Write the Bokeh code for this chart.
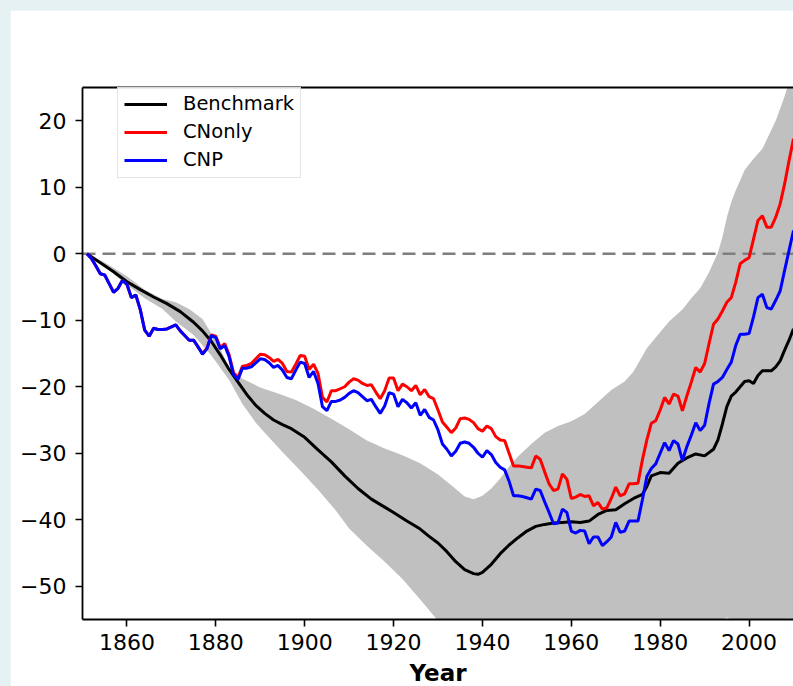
from bokeh.plotting import figure
from bokeh.layouts import column
from bokeh.models import FixedTicker, LinearAxis, Legend, LegendItem
from bokeh.embed import file_html
from bokeh.resources import INLINE

# ---- data -------------------------------------------------------------
years = list(range(1851, 2011))

cnp = [
    0.0, -0.7, -1.8, -3.0, -3.2, -4.5, -5.8, -5.2, -4.0, -4.6,
    -6.6, -6.2, -8.4, -11.5, -12.4, -11.2, -11.4, -11.4, -11.3, -11.0,
    -10.7, -11.6, -12.3, -13.0, -13.0, -14.0, -15.1, -14.3, -12.3, -12.6,
    -14.3, -13.8, -15.5, -18.2, -18.9, -17.2, -17.2, -17.0, -16.4, -15.8,
    -15.9, -16.4, -17.1, -16.8, -17.5, -18.6, -18.8, -17.5, -16.3, -16.5,
    -18.6, -17.7, -19.5, -23.0, -23.6, -22.2, -22.2, -22.0, -21.6, -21.0,
    -20.6, -20.9, -21.5, -22.1, -21.9, -23.0, -24.0, -22.9, -20.9, -21.1,
    -23.0, -21.9, -22.4, -23.2, -22.4, -24.3, -23.4, -24.6, -25.0, -26.5,
    -28.6, -29.4, -30.4, -29.7, -28.5, -28.3, -28.5, -29.1, -30.0, -30.6,
    -29.6, -30.2, -31.4, -32.1, -32.5, -34.2, -36.4, -36.4, -36.5, -36.7,
    -36.9, -35.4, -35.6, -37.3, -38.9, -40.6, -40.5, -38.4, -38.9, -41.7,
    -42.0, -41.6, -41.7, -43.6, -42.6, -42.6, -43.9, -43.3, -42.6, -40.4,
    -41.9, -41.7, -40.2, -40.2, -40.2, -37.0, -33.5, -32.3, -31.6, -30.0,
    -28.4, -29.6, -28.1, -28.6, -31.1, -29.0, -27.3, -25.4, -26.6, -25.8,
    -22.5, -19.6, -19.2, -18.6, -17.4, -16.3, -13.8, -12.1, -12.1, -12.0,
    -9.5, -6.6, -6.1, -8.1, -8.3, -7.0, -5.6, -2.5, 0.5, 3.5,
]

cn_only = [
    0.0, -0.7, -1.8, -3.0, -3.2, -4.5, -5.8, -5.2, -4.0, -4.6,
    -6.6, -6.2, -8.4, -11.5, -12.4, -11.2, -11.4, -11.4, -11.3, -11.0,
    -10.7, -11.6, -12.3, -13.0, -13.0, -14.0, -15.0, -14.2, -12.2, -12.4,
    -14.1, -13.5, -15.2, -17.9, -18.6, -16.9, -16.8, -16.5, -15.8, -15.1,
    -15.2, -15.6, -16.2, -15.9, -16.5, -17.7, -17.8, -16.6, -15.3, -15.4,
    -17.4, -16.6, -18.0, -21.6, -22.3, -20.6, -20.6, -20.3, -20.0, -19.3,
    -18.8, -19.0, -19.5, -19.8, -19.7, -20.8, -21.8, -20.6, -18.7, -18.7,
    -20.6, -19.6, -20.0, -20.6, -19.8, -21.2, -20.4, -21.5, -21.8, -23.5,
    -25.3, -26.1, -26.9, -26.2, -24.8, -24.7, -24.9, -25.4, -26.3, -26.7,
    -25.9, -26.3, -27.5, -28.0, -28.1, -30.0, -31.9, -31.9, -32.0, -32.1,
    -32.2, -30.4, -30.9, -32.8, -34.6, -35.6, -35.4, -33.1, -33.9, -36.8,
    -36.6, -36.2, -36.5, -36.4, -37.9, -37.4, -38.4, -38.2, -36.8, -35.1,
    -36.4, -36.1, -34.6, -34.6, -34.5, -31.0, -28.0, -25.5, -25.1, -23.5,
    -21.6, -22.6, -21.1, -21.4, -23.6, -21.4, -19.3, -17.1, -17.8, -16.5,
    -13.5, -10.6, -9.8, -8.6, -7.3, -6.6, -4.3, -1.5, -1.0, -0.6,
    2.2, 5.0, 5.7, 4.0, 4.0, 5.5, 7.5, 10.5, 14.0, 17.3,
]

bench_years = [
    1851, 1853, 1855, 1857, 1860, 1863, 1866, 1869, 1872, 1875,
    1877, 1879, 1881, 1883, 1885, 1887, 1889, 1891, 1893, 1895,
    1897, 1900, 1903, 1906, 1909, 1912, 1915, 1918, 1920, 1923,
    1926, 1928, 1930, 1932, 1934, 1936, 1938, 1939, 1940, 1942,
    1944, 1946, 1948, 1950, 1952, 1954, 1956, 1958, 1960, 1962,
    1964, 1966, 1968, 1970, 1972, 1974, 1976, 1977, 1978, 1980,
    1982, 1984, 1986, 1988, 1990, 1992, 1993, 1994, 1995, 1996,
    1997, 1998, 1999, 2000, 2001, 2002, 2003, 2004, 2005, 2006,
    2007, 2008, 2009, 2010,
]
benchmark = [
    0.0, -0.9, -1.8, -2.7, -4.2, -5.4, -6.5, -7.5, -8.7, -10.3,
    -11.6, -13.2, -15.2, -17.4, -19.3, -21.2, -22.8, -24.0, -25.0, -25.7,
    -26.3, -27.6, -29.5, -31.3, -33.4, -35.3, -36.9, -38.1, -38.9, -40.2,
    -41.4, -42.5, -43.5, -44.8, -46.3, -47.5, -48.1, -48.2, -47.9, -46.7,
    -45.1, -43.8, -42.7, -41.7, -41.0, -40.7, -40.5, -40.4, -40.3, -40.4,
    -40.2, -39.2, -38.6, -38.5, -37.6, -36.8, -36.2, -35.0, -33.4, -32.9,
    -33.0, -31.5, -30.7, -30.1, -30.4, -29.4, -28.0, -25.6, -23.0, -21.4,
    -20.8, -20.0, -19.2, -19.1, -19.5, -18.3, -17.6, -17.6, -17.6, -17.0,
    -16.1, -14.5, -13.0, -11.3,
]

# spread of the benchmark ensemble (upper and lower envelope)
band_up_years = [
    1851, 1855, 1860, 1864, 1868, 1871, 1874, 1877, 1879, 1881,
    1883, 1886, 1890, 1894, 1898, 1902, 1906, 1910, 1914, 1918,
    1922, 1926, 1930, 1933, 1936, 1938, 1940, 1942, 1944, 1946,
    1948, 1951, 1954, 1957, 1960, 1963, 1966, 1969, 1972, 1974,
    1977, 1979, 1982, 1985, 1987, 1989, 1991, 1993, 1994, 1995,
    1996, 1997, 1999, 2001, 2003, 2006, 2008, 2010,
]
band_up = [
    0.0, -1.3, -3.4, -5.4, -6.8, -7.3, -8.3, -9.8, -12.0, -14.3,
    -17.1, -18.8, -20.1, -21.0, -22.0, -23.3, -24.8, -26.4, -28.1, -29.3,
    -30.3, -31.5, -33.2, -34.8, -36.5, -36.9, -36.4, -35.3, -33.8, -32.0,
    -30.5, -28.6, -26.9, -25.9, -25.2, -24.1, -22.3, -20.5, -19.2, -17.7,
    -14.2, -12.6, -10.2, -8.4, -6.7, -5.2, -2.8, 0.2, 2.5, 5.5,
    7.8, 9.5, 12.6, 14.3, 15.8, 20.0, 23.7, 28.0,
]
band_lo_years = [
    1851, 1855, 1860, 1864, 1868, 1871, 1875, 1879, 1883, 1886,
    1889, 1891, 1895, 1899, 1903, 1907, 1910, 1914, 1918, 1922,
    1926, 1930, 1935, 1945, 1960, 1975, 1985, 1990, 1993, 1995,
    1997, 2000, 2005, 2008, 2009, 2010,
]
band_lo = [
    0.0, -1.9, -4.7, -6.7, -8.3, -10.2, -12.2, -15.3, -19.0, -22.6,
    -25.4, -26.9, -29.8, -32.6, -35.5, -38.6, -41.3, -43.9, -46.3, -48.9,
    -52.0, -55.2, -59.0, -63.0, -64.0, -63.0, -60.0, -57.0, -55.3, -54.7,
    -55.4, -56.0, -56.0, -55.3, -54.8, -55.2,
]

x_ticks = [1860, 1880, 1900, 1920, 1940, 1960, 1980, 2000]
y_ticks = [-50, -40, -30, -20, -10, 0, 10, 20]
y_tick_labels = ["\u221250", "\u221240", "\u221230", "\u221220", "\u221210", "0", "10", "20"]
zero_line_x = [1850, 2010]
zero_line_y = [0, 0]

FONT = "DejaVu Sans"

# ---- figure -----------------------------------------------------------
p = figure(
    frame_width=711, frame_height=532,
    x_range=(1850, 2010), y_range=(-55, 25),
    output_backend="svg", toolbar_location=None,
    min_border_left=72, min_border_top=77, min_border_right=0, min_border_bottom=5,
    background_fill_color="white", border_fill_color="white",
    outline_line_color=None,
)
p.xgrid.visible = False
p.ygrid.visible = False

# ensemble envelope
p.patch(band_up_years + band_lo_years[::-1], band_up + band_lo[::-1],
        fill_color="#c0c0c0", line_color=None)

# zero reference
p.line(zero_line_x, zero_line_y, line_color="#7f7f7f", line_width=2.6, line_dash="13 7")

r_bench = p.line(bench_years, benchmark, line_color="black", line_width=3)
r_cn = p.line(years, cn_only, line_color="red", line_width=3)
r_cnp = p.line(years, cnp, line_color="blue", line_width=3)

# ---- axes -------------------------------------------------------------
for ax in (p.xaxis[0], p.yaxis[0]):
    ax.axis_line_width = 1.8
    ax.axis_line_color = "black"
    ax.major_tick_line_width = 1.6
    ax.major_tick_out = 7
    ax.major_tick_in = 0
    ax.minor_tick_line_color = None
    ax.major_label_text_font = FONT
    ax.major_label_text_font_size = "22px"
    ax.major_label_text_color = "black"

p.xaxis.ticker = FixedTicker(ticks=x_ticks)
p.yaxis.ticker = FixedTicker(ticks=y_ticks)
p.yaxis.major_label_overrides = {v: s for v, s in zip(y_ticks, y_tick_labels)}
p.yaxis.major_label_standoff = 9
p.xaxis.major_label_standoff = 7

p.xaxis.axis_label = "Year"
p.xaxis.axis_label_text_font = FONT
p.xaxis.axis_label_text_font_size = "23px"
p.xaxis.axis_label_text_font_style = "bold"
p.xaxis.axis_label_text_color = "black"
p.xaxis.axis_label_standoff = 7

# top spine
top = LinearAxis(ticker=FixedTicker(ticks=[]), axis_line_width=1.8, axis_line_color="black",
                 major_tick_line_color=None, minor_tick_line_color=None,
                 major_label_text_color=None)
p.add_layout(top, "above")

# ---- legend -----------------------------------------------------------
legend = Legend(
    items=[
        LegendItem(label="Benchmark", renderers=[r_bench]),
        LegendItem(label="CNonly", renderers=[r_cn]),
        LegendItem(label="CNP", renderers=[r_cnp]),
    ],
    location=(35, 441),
    label_text_font=FONT, label_text_font_size="19.5px", label_text_color="black",
    glyph_width=43, glyph_height=20, label_height=20, label_standoff=16,
    padding=6, spacing=5, margin=0,
    border_line_color="#cccccc", border_line_width=1,
    background_fill_color="white", background_fill_alpha=0.85,
)
p.add_layout(legend)

page = column(p, styles={"background-color": "#e6f1f4", "padding-left": "10px", "padding-top": "10px"})

open("out.html", "w").write(file_html(page, INLINE))
